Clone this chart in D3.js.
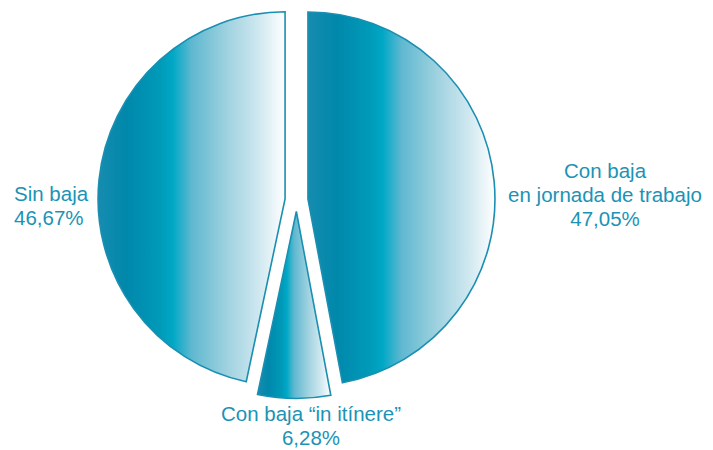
<!DOCTYPE html>
<html>
<head>
<meta charset="utf-8">
<script src="https://cdn.jsdelivr.net/npm/d3@7"></script>
<style>
  html, body { margin: 0; padding: 0; background: #ffffff; }
  svg { display: block; }
  text { font-family: "Liberation Sans", Arial, Helvetica, sans-serif; fill: #1b93b6; }
</style>
</head>
<body>
<svg id="chart" width="713" height="450"></svg>
<script>
// Data
const categories = ["Con baja en jornada de trabajo", "Con baja \u201cin itínere\u201d", "Sin baja"];
const values = [47.05, 6.28, 46.67];
const labelLines = [
  ["Con baja", "en jornada de trabajo", "47,05%"],
  ["Con baja \u201cin itínere\u201d", "6,28%"],
  ["Sin baja", "46,67%"]
];

const svg = d3.select("#chart");
const cx = 296.5, cy = 200, R = 187, explode = 11.5;

const defs = svg.append("defs");
const grad = defs.append("linearGradient")
  .attr("id", "sliceGrad")
  .attr("x1", 0).attr("y1", 0).attr("x2", 1).attr("y2", 0);
[
  [0.00, "#168caf"],
  [0.15, "#0088ab"],
  [0.33, "#009ab9"],
  [0.40, "#00a8c6"],
  [0.50, "#5fb8d0"],
  [0.70, "#a2d3e0"],
  [0.86, "#cfe8f0"],
  [1.00, "#ffffff"]
].forEach(([o, c]) => grad.append("stop").attr("offset", o).attr("stop-color", c));

const pie = d3.pie().sort(null).value(d => d)(values);
const arc = d3.arc().innerRadius(0).outerRadius(R);

const g = svg.append("g").attr("transform", `translate(${cx},${cy})`);

g.selectAll("path.slice")
  .data(pie)
  .join("path")
  .attr("class", "slice")
  .attr("d", arc)
  .attr("transform", d => {
    const a = (d.startAngle + d.endAngle) / 2;
    return `translate(${explode * Math.sin(a)},${-explode * Math.cos(a)})`;
  })
  .attr("fill", "url(#sliceGrad)")
  .attr("stroke", "#1a8fb1")
  .attr("stroke-width", 1.6)
  .attr("stroke-linejoin", "miter");

// Labels
const labelPos = [
  { x: 605, y: 178, anchor: "middle" },
  { x: 311, y: 421, anchor: "middle" },
  { x: 14, y: 201, anchor: "start" }
];
const lineH = 24;
labelLines.forEach((lines, i) => {
  const p = labelPos[i];
  const t = svg.append("text")
    .attr("x", p.x).attr("y", p.y)
    .attr("text-anchor", p.anchor)
    .style("font-size", "20.5px");
  lines.forEach((l, j) => {
    t.append("tspan").attr("x", p.x).attr("y", p.y + j * lineH).text(l);
  });
});
</script>
</body>
</html>
